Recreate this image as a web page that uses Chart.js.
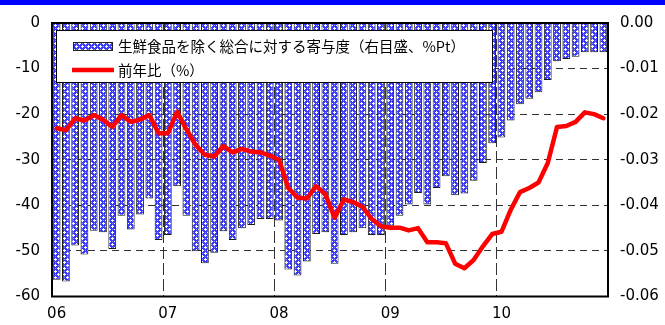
<!DOCTYPE html>
<html lang="ja">
<head>
<meta charset="UTF-8">
<title>寄与度と前年比</title>
<script src="https://cdn.jsdelivr.net/npm/chart.js"></script>
<style>
  body { margin: 0; background: #fff; }
  .wrap { position: relative; width: 665px; height: 325px; }
  .band { position: absolute; left: 0; top: 0; width: 665px; height: 5px; background: #0000ff; }
</style>
</head>
<body>
<div class="wrap">
  <canvas id="chart"></canvas>
  <div class="band"></div>
</div>
<script>
  // 年ラベル（1月の位置にだけ表示）
  const years = ['06', '07', '08', '09', '10'];
  const months = [];
  years.forEach(y => { for (let m = 1; m <= 12; m++) months.push(y + '/' + m); });

  // 生鮮食品を除く総合に対する寄与度（右目盛、%Pt）
  const kiyodo = [
    -0.0563, -0.0567, -0.0488, -0.0508, -0.0456, -0.0459, -0.0496, -0.0423, -0.0453, -0.0420, -0.0385, -0.0476,
    -0.0465, -0.0358, -0.0423, -0.0501, -0.0527, -0.0504, -0.0457, -0.0476, -0.0450, -0.0443, -0.0430, -0.0430,
    -0.0433, -0.0541, -0.0554, -0.0523, -0.0463, -0.0459, -0.0528, -0.0465, -0.0459, -0.0450, -0.0465, -0.0465,
    -0.0445, -0.0423, -0.0398, -0.0373, -0.0398, -0.0362, -0.0336, -0.0378, -0.0374, -0.0346, -0.0307, -0.0264,
    -0.0251, -0.0214, -0.0178, -0.0166, -0.0152, -0.0125, -0.0084, -0.0079, -0.0074, -0.0064, -0.0064, -0.0064
  ];

  // 前年比（%）
  const zennenhi = [
    -23.1, -23.5, -20.9, -21.4, -20.2, -21.2, -22.8, -20.2, -21.7, -21.2, -20.2, -24.2,
    -24.2, -19.5, -23.3, -26.8, -28.9, -29.3, -27.0, -28.4, -27.6, -28.2, -28.4, -29.1,
    -30.0, -36.2, -38.3, -38.5, -35.8, -37.6, -42.7, -38.7, -39.3, -40.3, -43.0, -44.6,
    -44.9, -44.9, -45.5, -45.0, -48.1, -48.1, -48.3, -52.8, -53.8, -52.0, -49.0, -46.3,
    -45.8, -41.0, -37.1, -36.2, -35.0, -30.7, -22.8, -22.6, -21.7, -19.6, -20.0, -20.9
  ];

  const label1 = '生鮮食品を除く総合に対する寄与度（右目盛、%Pt）';
  const label2 = '前年比（%）';

  // 青地に白い十字の網目
  function makePattern() {
    const c = document.createElement('canvas');
    c.width = 6; c.height = 6;
    const g = c.getContext('2d');
    g.fillStyle = '#3a3aff';
    g.fillRect(0, 0, 6, 6);
    g.fillStyle = '#ffffff';
    [[1, 0], [0, 1], [1, 1], [2, 1], [1, 2], [4, 3], [3, 4], [4, 4], [5, 4], [4, 5]]
      .forEach(p => g.fillRect(p[0], p[1], 1, 1));
    g.fillStyle = '#8c8cff';
    [[4, 1], [1, 4]].forEach(p => g.fillRect(p[0], p[1], 1, 1));
    return g.createPattern(c, 'repeat');
  }
  const hatch = makePattern();

  const fontTick = { family: 'DejaVu Sans', size: 15 };

  // 凡例（プロット内の白い枠）
  const legendBox = {
    id: 'legendBox',
    afterDatasetsDraw(chart) {
      const ctx = chart.ctx;
      ctx.save();
      ctx.fillStyle = '#fff';
      ctx.fillRect(56, 30, 436, 52);
      ctx.strokeStyle = '#000';
      ctx.lineWidth = 1;
      ctx.strokeRect(56.5, 30.5, 436, 52);

      ctx.fillStyle = hatch;
      ctx.fillRect(73, 42, 39, 8);
      ctx.strokeStyle = '#222';
      ctx.strokeRect(73.5, 42.5, 39, 8);

      ctx.strokeStyle = '#ff0000';
      ctx.lineWidth = 4.5;
      ctx.beginPath();
      ctx.moveTo(72, 70);
      ctx.lineTo(114, 70);
      ctx.stroke();

      ctx.fillStyle = '#000';
      ctx.font = '14.5px "Noto Sans CJK JP"';
      ctx.textBaseline = 'middle';
      ctx.fillText(chart.data.datasets[0].label, 118, 46);
      ctx.fillText(chart.data.datasets[1].label, 118, 70);
      ctx.restore();
    }
  };

  // プロットの枠線
  const frame = {
    id: 'frame',
    afterDatasetsDraw(chart) {
      const a = chart.chartArea;
      const ctx = chart.ctx;
      ctx.save();
      ctx.strokeStyle = '#000';
      ctx.lineWidth = 2;
      ctx.strokeRect(a.left, a.top, a.right - a.left, a.bottom - a.top);
      ctx.restore();
    }
  };

  new Chart(document.getElementById('chart'), {
    type: 'bar',
    data: {
      labels: months,
      datasets: [
        {
          label: label1,
          data: kiyodo,
          yAxisID: 'y1',
          backgroundColor: hatch,
          borderColor: '#1a1a1a',
          borderWidth: 1,
          barPercentage: 0.84,
          categoryPercentage: 1.0,
          order: 1
        },
        {
          type: 'line',
          label: label2,
          data: zennenhi,
          yAxisID: 'y',
          borderColor: '#ff0000',
          borderWidth: 4.5,
          pointRadius: 0,
          tension: 0,
          borderJoinStyle: 'round',
          borderCapStyle: 'round',
          order: 0
        }
      ]
    },
    options: {
      responsive: true,
      maintainAspectRatio: false,
      animation: false,
      layout: { padding: { top: 23, left: 0, right: 0, bottom: 0 } },
      plugins: { legend: { display: false }, tooltip: { enabled: false } },
      scales: {
        x: {
          afterFit: s => { s.height = 28.5; },
          grid: {
            offset: true,
            drawTicks: false,
            color: c => (c.index % 12 === 0 && c.index > 0) ? '#333' : 'transparent',
            lineWidth: 1
          },
          border: { display: false, dash: [12, 4] },
          ticks: {
            autoSkip: false,
            maxRotation: 0,
            padding: 9,
            color: '#000',
            font: fontTick,
            callback: (v, i) => i % 12 === 0 ? years[i / 12] : ''
          }
        },
        y: {
          position: 'left',
          min: -60,
          max: 0,
          afterFit: s => { s.width = 52; },
          grid: {
            drawTicks: false,
            color: c => (c.tick.value === 0 || c.tick.value === -60) ? 'transparent' : '#333'
          },
          border: { display: false, dash: [7, 5] },
          ticks: { stepSize: 10, padding: 12, color: '#000', font: fontTick }
        },
        y1: {
          position: 'right',
          min: -0.06,
          max: 0,
          afterFit: s => { s.width = 57; },
          grid: { display: false, drawTicks: false },
          border: { display: false },
          ticks: {
            stepSize: 0.01,
            padding: 12,
            color: '#000',
            font: fontTick,
            callback: v => Math.abs(v) < 1e-9 ? '0.00' : v.toFixed(2)
          }
        }
      }
    },
    plugins: [legendBox, frame]
  });
</script>
</body>
</html>
